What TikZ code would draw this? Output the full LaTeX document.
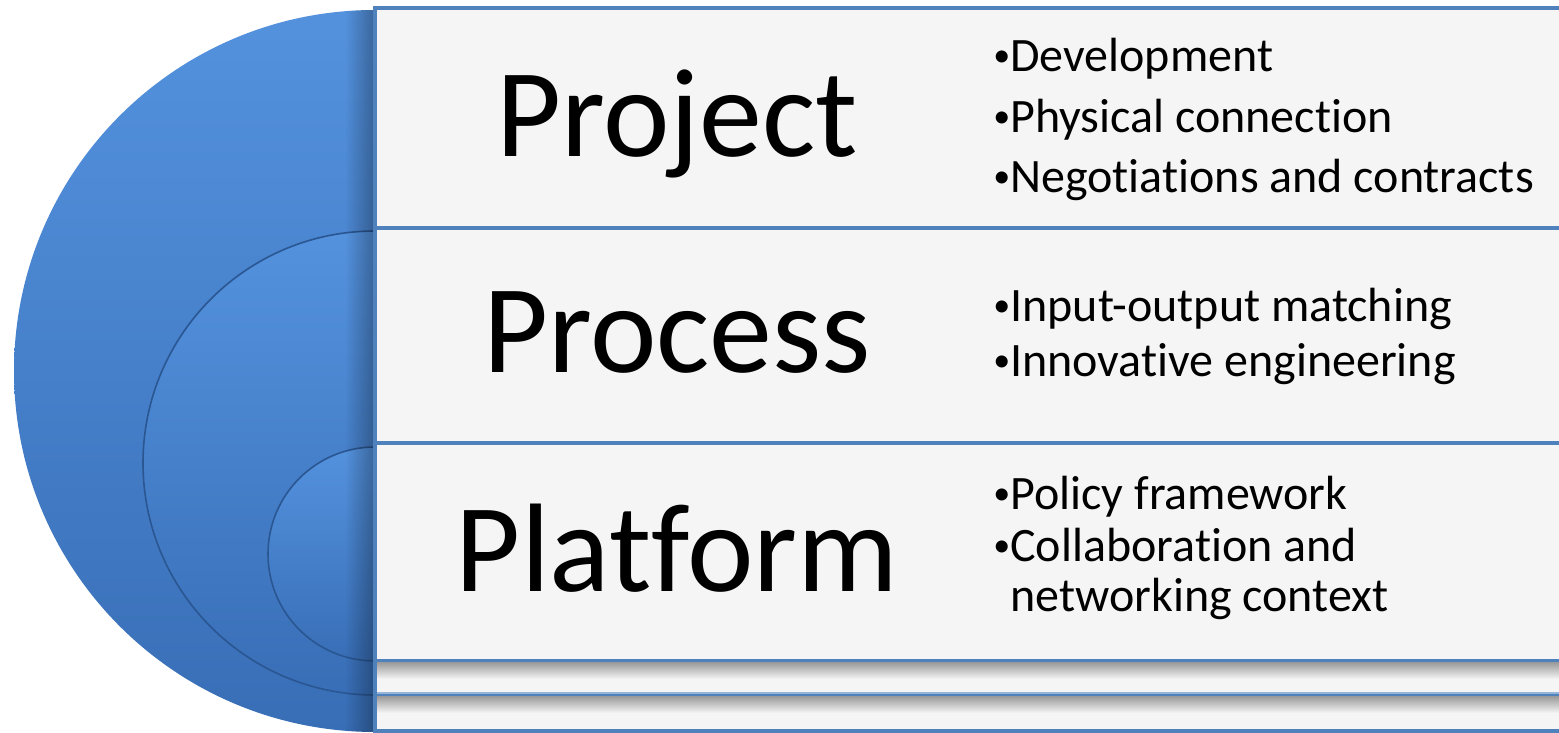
\documentclass[tikz,border=0pt]{standalone}
\usepackage{fontspec}
\setmainfont{Carlito}[Ligatures=NoCommon]
\usetikzlibrary{fadings}

\definecolor{rimblue}{RGB}{79,129,189}
\definecolor{paper}{RGB}{245,245,245}
\definecolor{disctop}{RGB}{84,146,222}
\definecolor{discmid}{RGB}{66,126,203}
\definecolor{discbot}{RGB}{56,110,182}
\definecolor{discline}{RGB}{42,86,146}

\tikzfading[name=fadeleft, left color=transparent!100, right color=transparent!0]

\newcommand{\itemdot}{\raisebox{0.12em}{\fontsize{17}{17}\selectfont\textbullet}}

\begin{document}
\begin{tikzpicture}
      [x=0.5pt,y=0.5pt,
       band/.style={draw=rimblue,line width=2pt,fill=paper},
       disc/.style={top color=disctop,middle color=discmid,bottom color=discbot},
       title/.style={font=\fontsize{63}{63}\selectfont,anchor=base,inner sep=0pt},
       item/.style={font=\fontsize{24}{28}\selectfont,anchor=base west,inner sep=0pt}]

      \useasboundingbox (0,0) rectangle (1559,733);

      % nested half discs
      \begin{scope}
        \clip (0,0) rectangle (375,733);
        \shade[disc] (375,362) circle (361);
        \shade[disc,draw=discline,line width=0.8pt] (375,270) circle (232);
        \shade[disc,draw=discline,line width=0.8pt] (375,179) circle (107);
      \end{scope}
      \begin{scope}
        \clip (375,362) circle (361);
        \fill[black,opacity=0.3,path fading=fadeleft] (345,0) rectangle (375,733);
      \end{scope}

      % bands
      \draw[band] (375,505) rectangle (1570,725);
      \draw[band] (375,290) rectangle (1570,505);
      \draw[band] (375,72) rectangle (1570,290);
      \draw[band] (375,38) rectangle (1570,72);
      \draw[band] (375,2) rectangle (1570,38);
      \shade[top color=black!38,bottom color=paper] (377,54) rectangle (1570,70);
      \shade[top color=black!38,bottom color=paper] (377,20) rectangle (1570,36);
      \draw[rimblue!60,line width=1pt] (377,39.5) -- (1570,39.5);

      % titles
      \node[title] (project)  at (677,576) {Project};
      \node[title] (process)  at (677,360) {Process};
      \node[title] (platform) at (677,141) {Platform};

      % bullet lists
      \node[item] (proj1) at (993,661) {\itemdot Development};
      \node[item] (proj2) at (993,600) {\itemdot Physical connection};
      \node[item] (proj3) at (993,540) {\itemdot Negotiations and contracts};

      \node[item] (proc1) at (993,411) {\itemdot Input-output matching};
      \node[item] (proc2) at (993,356) {\itemdot Innovative engineering};

      \node[item] (plat1) at (993,223) {\itemdot Policy framework};
      \node[item] (plat2) at (993,171) {\itemdot Collaboration and};
      \node[item] (plat3) at (993,121) {\phantom{\itemdot}networking context};
\end{tikzpicture}
\end{document}
